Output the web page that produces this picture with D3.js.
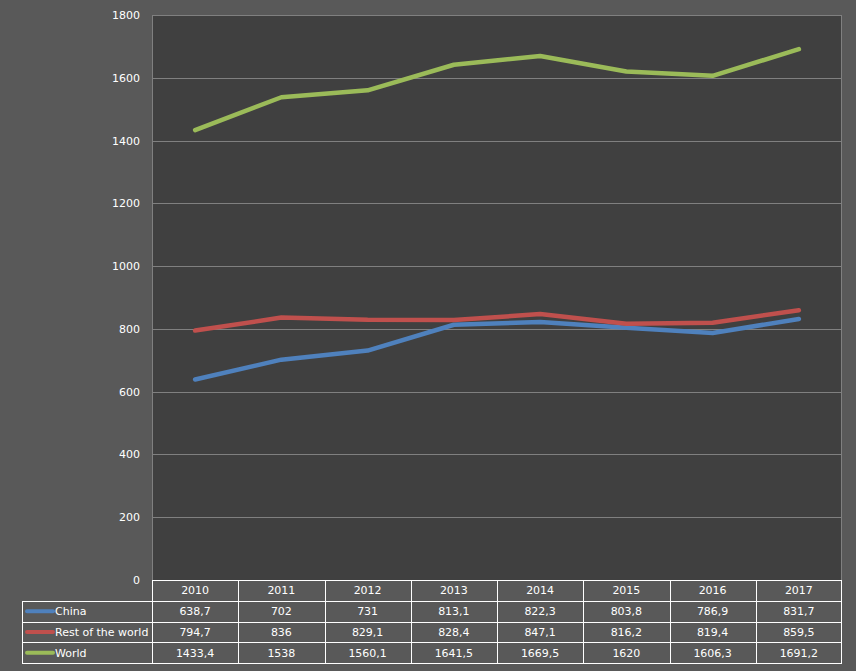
<!DOCTYPE html>
<html>
<head>
<meta charset="utf-8">
<script src="https://cdn.jsdelivr.net/npm/d3@7"></script>
<style>
  html, body { margin: 0; padding: 0; background: #595959; }
  svg text { font-family: "DejaVu Sans", Verdana, sans-serif; font-size: 11px; fill: #ffffff; }
</style>
</head>
<body>
<div class="container"></div>
<script>
const WIDTH = 856;
const HEIGHT = 671;

const PLOT_LEFT = 152;
const PLOT_RIGHT = 842;
const PLOT_TOP = 15;
const PLOT_BOTTOM = 580;
const TABLE_LEFT = 22;
const ROW_H = 20.75;

var years = ['2010', '2011', '2012', '2013', '2014', '2015', '2016', '2017'];
var china = [638.7, 702, 731, 813.1, 822.3, 803.8, 786.9, 831.7];
var restOfWorld = [794.7, 836, 829.1, 828.4, 847.1, 816.2, 819.4, 859.5];
var world = [1433.4, 1538, 1560.1, 1641.5, 1669.5, 1620, 1606.3, 1691.2];
var seriesNames = ['China', 'Rest of the world', 'World'];
var seriesColors = ['#4f81bd', '#c0504d', '#9bbb59'];
var yTicks = [0, 200, 400, 600, 800, 1000, 1200, 1400, 1600, 1800];

var translate = function(x, y){
  return "translate(" + x + "," + y + ")";
};

var fmt = function(v){
  return String(v).replace('.', ',');
};

var drawChart = function(){
  var series = [china, restOfWorld, world];

  var svg = d3.select('.container').append('svg')
    .attr('width', WIDTH)
    .attr('height', HEIGHT);

  svg.append('rect')
    .attr('width', WIDTH).attr('height', HEIGHT)
    .attr('fill', '#595959');

  var xScale = d3.scaleBand()
    .domain(years)
    .range([PLOT_LEFT, PLOT_RIGHT]);

  var yScale = d3.scaleLinear()
    .domain([0, 1800])
    .range([PLOT_BOTTOM, PLOT_TOP]);

  // plot area
  svg.append('rect')
    .attr('x', PLOT_LEFT).attr('y', PLOT_TOP)
    .attr('width', PLOT_RIGHT - PLOT_LEFT)
    .attr('height', PLOT_BOTTOM - PLOT_TOP)
    .attr('fill', '#404040');

  // gridlines
  svg.append('g').selectAll('line')
    .data(yTicks)
    .enter().append('line')
    .attr('x1', PLOT_LEFT).attr('x2', PLOT_RIGHT)
    .attr('y1', function(d){ return Math.round(yScale(d)) + 0.5; })
    .attr('y2', function(d){ return Math.round(yScale(d)) + 0.5; })
    .attr('stroke', '#808080')
    .attr('stroke-width', 1);

  svg.append('line')
    .attr('x1', PLOT_LEFT + 0.5).attr('x2', PLOT_LEFT + 0.5)
    .attr('y1', PLOT_TOP).attr('y2', PLOT_BOTTOM)
    .attr('stroke', '#808080');
  svg.append('line')
    .attr('x1', PLOT_RIGHT - 0.5).attr('x2', PLOT_RIGHT - 0.5)
    .attr('y1', PLOT_TOP).attr('y2', PLOT_BOTTOM)
    .attr('stroke', '#808080');

  // y axis labels
  var yAxis = d3.axisLeft(yScale).tickValues(yTicks)
    .tickFormat(d3.format('d')).tickSize(0).tickPadding(12);
  var yg = svg.append('g')
    .attr('transform', translate(PLOT_LEFT, 0))
    .call(yAxis);
  yg.select('.domain').remove();
  yg.selectAll('text')
    .attr('fill', '#ffffff')
    .style('font-family', '"DejaVu Sans", Verdana, sans-serif')
    .style('font-size', '11px');

  // lines
  var line = d3.line()
    .x(function(d, i){ return xScale(years[i]) + xScale.bandwidth() / 2; })
    .y(function(d){ return yScale(d); });

  svg.append('g').selectAll('path')
    .data(series)
    .enter().append('path')
    .attr('d', line)
    .attr('fill', 'none')
    .attr('stroke', function(d, i){ return seriesColors[i]; })
    .attr('stroke-width', 4.5)
    .attr('stroke-linecap', 'round')
    .attr('stroke-linejoin', 'round');

  // data table
  var table = svg.append('g');
  var tableTop = PLOT_BOTTOM;
  var tableBottom = tableTop + ROW_H * 4;

  // horizontal lines
  table.append('line')
    .attr('x1', PLOT_LEFT).attr('x2', PLOT_RIGHT)
    .attr('y1', tableTop + 0.5).attr('y2', tableTop + 0.5)
    .attr('stroke', '#ffffff');
  [1, 2, 3, 4].forEach(function(r){
    var y = Math.round(tableTop + ROW_H * r) + 0.5;
    table.append('line')
      .attr('x1', TABLE_LEFT).attr('x2', PLOT_RIGHT)
      .attr('y1', y).attr('y2', y)
      .attr('stroke', '#ffffff');
  });

  // vertical lines
  table.append('line')
    .attr('x1', TABLE_LEFT + 0.5).attr('x2', TABLE_LEFT + 0.5)
    .attr('y1', Math.round(tableTop + ROW_H)).attr('y2', Math.round(tableBottom) + 1)
    .attr('stroke', '#ffffff');
  years.forEach(function(y){
    var x = Math.round(xScale(y)) + 0.5;
    table.append('line')
      .attr('x1', x).attr('x2', x)
      .attr('y1', tableTop).attr('y2', Math.round(tableBottom) + 1)
      .attr('stroke', '#ffffff');
  });
  table.append('line')
    .attr('x1', PLOT_RIGHT - 0.5).attr('x2', PLOT_RIGHT - 0.5)
    .attr('y1', tableTop).attr('y2', Math.round(tableBottom) + 1)
    .attr('stroke', '#ffffff');

  // header
  table.selectAll('text.year')
    .data(years)
    .enter().append('text')
    .attr('class', 'year')
    .attr('x', function(d){ return xScale(d) + xScale.bandwidth() / 2; })
    .attr('y', tableTop + ROW_H / 2 + 4)
    .attr('text-anchor', 'middle')
    .text(function(d){ return d; });

  // rows
  series.forEach(function(values, si){
    var rowMid = tableTop + ROW_H * (si + 1) + ROW_H / 2;
    table.append('line')
      .attr('x1', TABLE_LEFT + 5).attr('x2', TABLE_LEFT + 31)
      .attr('y1', rowMid).attr('y2', rowMid)
      .attr('stroke', seriesColors[si])
      .attr('stroke-width', 4)
      .attr('stroke-linecap', 'round');
    table.append('text')
      .attr('x', TABLE_LEFT + 33)
      .attr('y', rowMid + 4)
      .text(seriesNames[si]);
    table.selectAll('text.v' + si)
      .data(values)
      .enter().append('text')
      .attr('class', 'v' + si)
      .attr('x', function(d, i){ return xScale(years[i]) + xScale.bandwidth() / 2; })
      .attr('y', rowMid + 4)
      .attr('text-anchor', 'middle')
      .text(function(d){ return fmt(d); });
  });
};

drawChart();
</script>
</body>
</html>
